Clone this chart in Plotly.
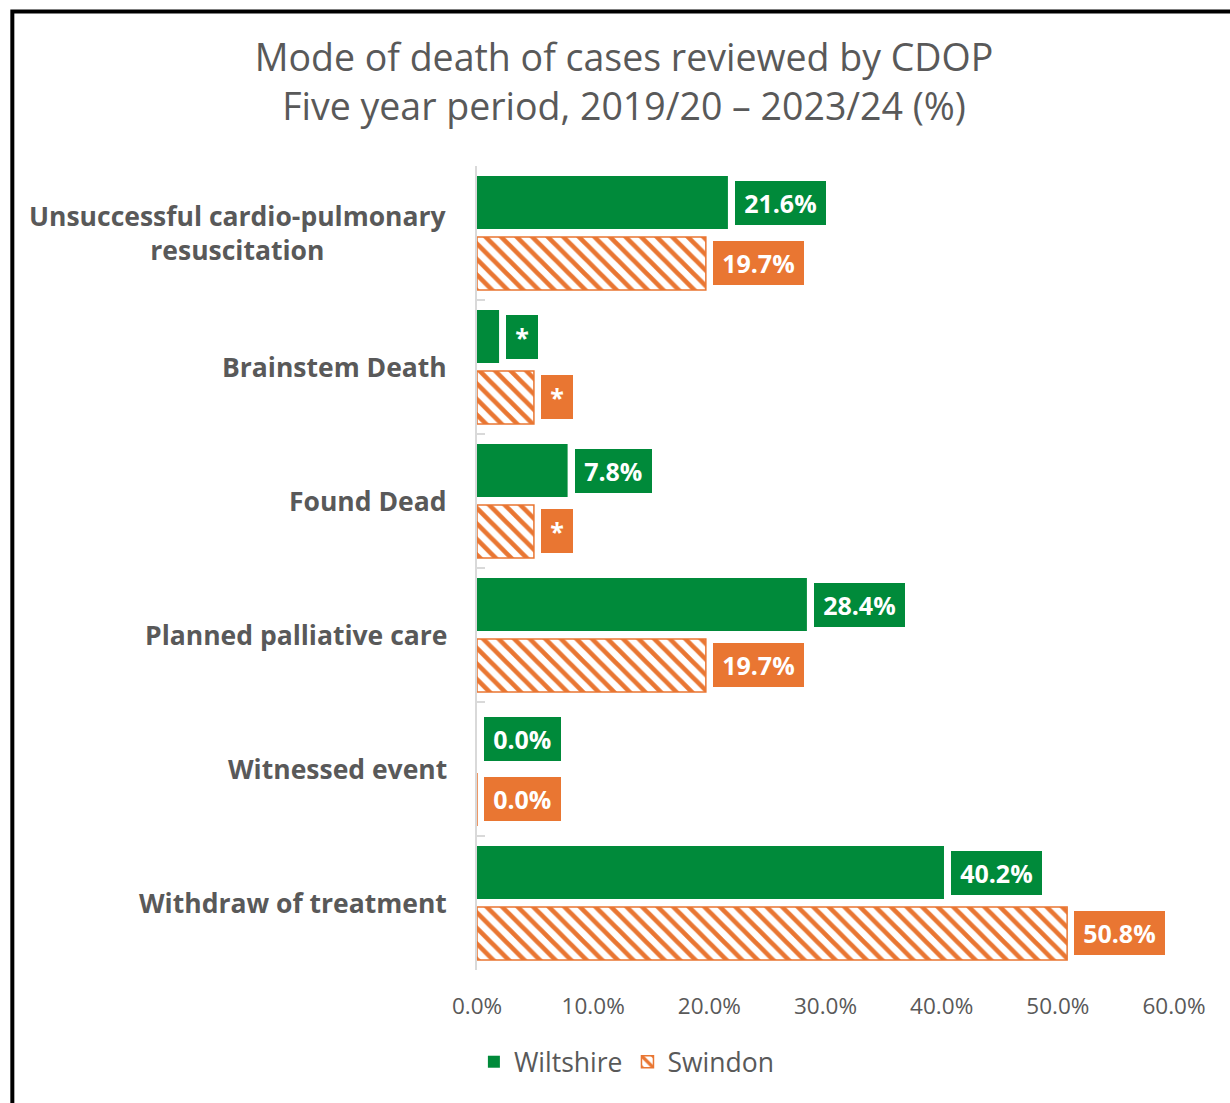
import plotly.graph_objects as go

# Mode of death, five-year CDOP review (%)
categories = [
    "Unsuccessful cardio-pulmonary<br>resuscitation",
    "Brainstem Death",
    "Found Dead",
    "Planned palliative care",
    "Witnessed event",
    "Withdraw of treatment",
]
wiltshire = [21.6, 1.9, 7.8, 28.4, 0.0, 40.2]
swindon = [19.7, 4.9, 4.9, 19.7, 0.0, 50.8]
# small counts are suppressed in the published labels
wiltshire_suppressed = [False, True, False, False, False, False]
swindon_suppressed = [False, True, True, False, False, False]
x_ticks = [0, 10, 20, 30, 40, 50, 60]
x_tick_labels = [f"{t:.1f}%" for t in x_ticks]

GREEN = "#008A3A"
ORANGE = "#E97632"
GREY = "#595959"
FONT = "Open Sans"

W, H = 1230, 1103
ML, MR, MT, MB = 476.5, 56, 166, 133
PW, PH = W - ML - MR, H - MT - MB


def px_to_paper_x(px):
    return (px - ML) / PW


def px_to_paper_y(py):
    return (H - MB - py) / PH


def label(v, hidden):
    return "*" if hidden else f"{v:.1f}%"


fig = go.Figure()
fig.add_trace(go.Bar(
    name="Wiltshire", y=categories, x=wiltshire, orientation="h",
    marker=dict(color=GREEN, line=dict(width=0)),
    hoverinfo="skip",
))
fig.add_trace(go.Bar(
    name="Swindon", y=categories, x=swindon, orientation="h",
    marker=dict(
        color="white",
        line=dict(color=ORANGE, width=1.5),
        pattern=dict(shape="\\", fgcolor=ORANGE, bgcolor="white",
                     size=11, solidity=0.42, fillmode="replace",
                     fgopacity=1),
    ),
    hoverinfo="skip",
))

bargap = 0.09
half = (1 - bargap) / 4  # centre offset of each bar within its group

annotations = []
for i, (cat, wv, sv, wh, sh) in enumerate(zip(categories, wiltshire, swindon,
                                              wiltshire_suppressed, swindon_suppressed)):
    for val, hid, off, col in ((wv, wh, -half, GREEN), (sv, sh, half, ORANGE)):
        annotations.append(dict(
            x=val, y=i + off, xref="x", yref="y",
            text=f"<b>\u2009{label(val, hid)}\u2009</b>", showarrow=False,
            xanchor="left", yanchor="middle", xshift=7,
            bgcolor=col, borderpad=5, borderwidth=0,
            font=dict(family=FONT, size=25, color="white"),
        ))
    # category label, lines centred on each other, block right-aligned
    annotations.append(dict(
        x=px_to_paper_x(448), y=i, xref="paper", yref="y",
        text=f"<b>{cat}</b>", showarrow=False,
        xanchor="right", yanchor="middle", align="center",
        font=dict(family=FONT, size=26.5, color=GREY),
    ))

# chart frame
shapes = [dict(
    type="rect", xref="paper", yref="paper",
    x0=px_to_paper_x(11.5), x1=px_to_paper_x(1260),
    y0=px_to_paper_y(1120), y1=px_to_paper_y(11.5),
    line=dict(color="black", width=4), fillcolor="rgba(0,0,0,0)",
    layer="above",
)]

fig.update_layout(
    width=W, height=H,
    margin=dict(l=ML, r=MR, t=MT, b=MB, pad=0),
    paper_bgcolor="white", plot_bgcolor="white",
    barmode="group", bargap=bargap, bargroupgap=0.13,
    title=dict(
        text="Mode of death of cases reviewed by CDOP<br>Five year period, 2019/20 \u2013 2023/24 (%)",
        x=624 / W, xanchor="center", y=1 - 71 / H, yanchor="middle",
        font=dict(family=FONT, size=37.5, color=GREY),
    ),
    font=dict(family=FONT, color=GREY),
    xaxis=dict(
        range=[0, 60], tickmode="array", tickvals=x_ticks, ticktext=x_tick_labels,
        showgrid=False, zeroline=False, showline=False, ticks="",
        tickfont=dict(family=FONT, size=22.5, color=GREY),
        ticklabelstandoff=20, fixedrange=True,
    ),
    yaxis=dict(
        categoryorder="array", categoryarray=categories,
        range=[5.5, -0.5], showticklabels=False,
        showline=True, linecolor="#D9D9D9", linewidth=1.5,
        ticks="inside", ticklen=8, tickcolor="#D9D9D9", tickwidth=1.5,
        tickson="boundaries", showgrid=False, zeroline=False, fixedrange=True,
    ),
    legend=dict(
        orientation="h", x=px_to_paper_x(626), xanchor="center",
        y=px_to_paper_y(1062), yanchor="middle",
        font=dict(family=FONT, size=26.5, color=GREY),
        itemwidth=30, traceorder="normal",
    ),
    annotations=annotations,
    shapes=shapes,
    showlegend=True,
)

fig.write_html("out.html")
